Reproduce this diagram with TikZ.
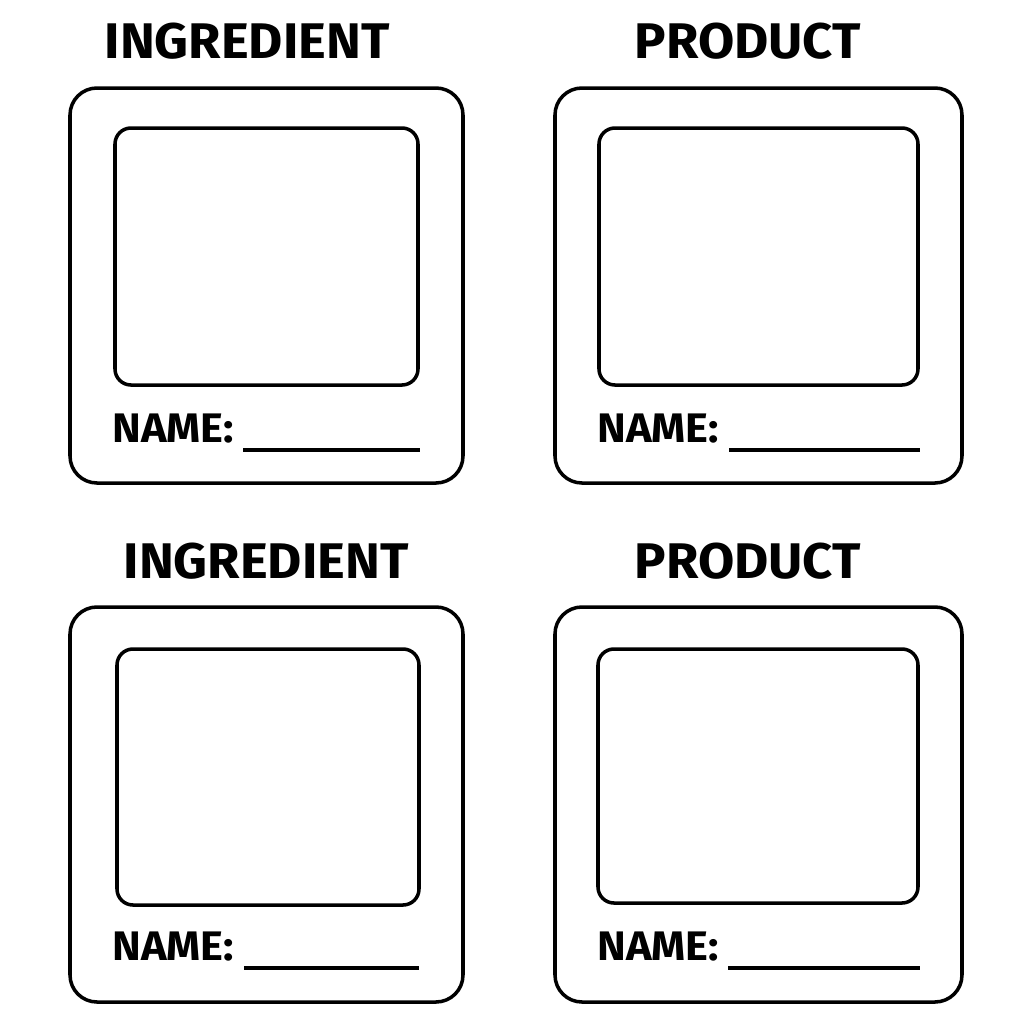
\documentclass[tikz,border=0pt]{standalone}
\usepackage{fontspec}
\setmainfont{Fira Sans}[FakeStretch=1.05]
\usepackage{tikz}

\begin{document}
\begin{tikzpicture}[x=0.02cm,y=-0.02cm,
  title/.style={anchor=base,inner sep=0pt,font=\fontsize{28.5}{34}\selectfont\bfseries},
  label/.style={anchor=base west,inner sep=0pt,font=\fontsize{23.5}{28}\selectfont\bfseries},
  card/.style={line width=2pt,rounded corners=0.54cm},
  photo/.style={line width=2pt,rounded corners=0.32cm},
  blank/.style={line width=2.2pt}]
\useasboundingbox[fill=white] (0,0) rectangle (1011,1012);
% top row
\node[title] (ingtitleA) at (247,58) {INGREDIENT};
\draw[card] (70,88) rectangle (463,483);
\draw[photo] (115,128) rectangle (418,385);
\node[label] (ingnameA) at (112,442) {NAME:};
\coordinate (inglineA) at (243,450);
\draw[blank] (inglineA) -- ++(177,0);
\node[title] (protitleA) at (748,58) {PRODUCT};
\draw[card] (555,88) rectangle (962,483);
\draw[photo] (599,128) rectangle (918,385);
\node[label] (pronameA) at (597,442) {NAME:};
\coordinate (prolineA) at (729,450);
\draw[blank] (prolineA) -- ++(191,0);
% bottom row
\node[title] (ingtitleB) at (266,578) {INGREDIENT};
\draw[card] (70,607) rectangle (463,1002);
\draw[photo] (117,649) rectangle (419,905);
\node[label] (ingnameB) at (112,960) {NAME:};
\coordinate (inglineB) at (244,968);
\draw[blank] (inglineB) -- ++(175,0);
\node[title] (protitleB) at (748,578) {PRODUCT};
\draw[card] (555,607) rectangle (962,1002);
\draw[photo] (598,649) rectangle (918,903);
\node[label] (pronameB) at (597,960) {NAME:};
\coordinate (prolineB) at (728,968);
\draw[blank] (prolineB) -- ++(192,0);
\end{tikzpicture}
\end{document}
